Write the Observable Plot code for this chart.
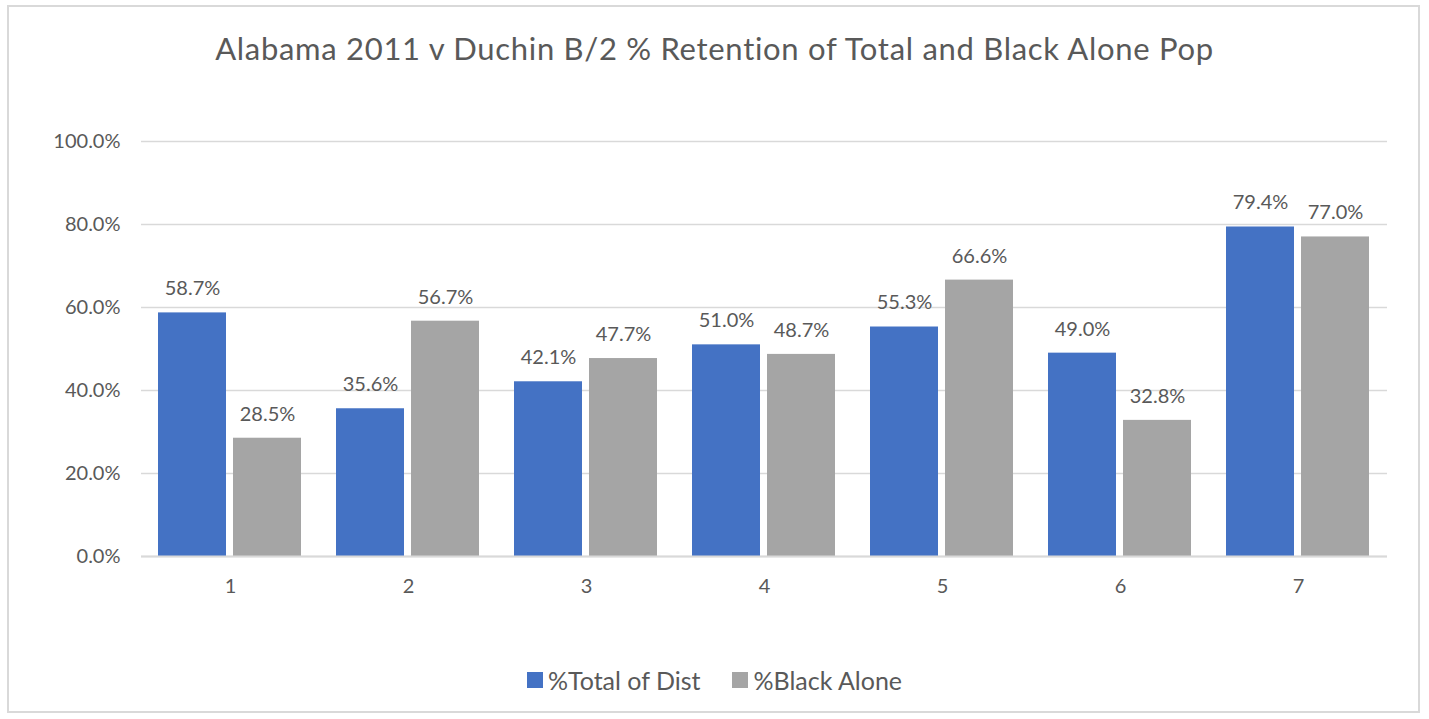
<!DOCTYPE html>
<html>
<head>
<meta charset="utf-8">
<script src="https://cdn.jsdelivr.net/npm/d3@7"></script>
<script src="https://cdn.jsdelivr.net/npm/@observablehq/plot@0.6"></script>
<style>
  html, body { margin: 0; padding: 0; background: #fff; }
  #page { position: relative; width: 1429px; height: 719px; overflow: hidden; font-family: Lato, sans-serif; color: #595959; }
  #frame { position: absolute; left: 7px; top: 5px; width: 1413px; height: 708px; border: 2px solid #d9d9d9; box-sizing: border-box; }
  #title { position: absolute; left: 0; width: 1429px; top: 27px; text-align: center; font-size: 31px; letter-spacing: 0.7px; line-height: 42px; color: #595959; }
  #chart { position: absolute; left: 0; top: 100px; }
  #legend { position: absolute; left: 0; width: 1429px; top: 664px; display: flex; justify-content: center; align-items: center; font-size: 25px; line-height: 32px; color: #595959; }
  .item { display: flex; align-items: center; margin: 0 16px; }
  .sw { width: 16px; height: 16px; margin-right: 5px; }
</style>
</head>
<body>
<div id="page">
  <div id="frame"></div>
  <div id="title"></div>
  <div id="chart"></div>
  <div id="legend"></div>
</div>
<script>
const titleText = "Alabama 2011 v Duchin B/2 % Retention of Total and Black Alone Pop";
const districts = ["1", "2", "3", "4", "5", "6", "7"];
const seriesNames = ["%Total of Dist", "%Black Alone"];
const totalOfDist = [58.7, 35.6, 42.1, 51.0, 55.3, 49.0, 79.4];
const blackAlone = [28.5, 56.7, 47.7, 48.7, 66.6, 32.8, 77.0];
const yTicks = [0, 20, 40, 60, 80, 100];
const colors = ["#4472C4", "#A5A5A5"];

const data = [];
districts.forEach((d, i) => {
  data.push({district: d, series: seriesNames[0], value: totalOfDist[i]});
  data.push({district: d, series: seriesNames[1], value: blackAlone[i]});
});

document.getElementById("title").textContent = titleText;

const fmt = v => v.toFixed(1) + "%";

const chart = Plot.plot({
  width: 1429,
  height: 520,
  marginLeft: 139,
  marginRight: 40,
  marginTop: 41,
  marginBottom: 64,
  style: {fontFamily: "Lato, sans-serif", fontSize: "20px", color: "#595959", background: "transparent"},
  fx: {domain: districts, axis: "bottom", paddingInner: 0, paddingOuter: 0, tickSize: 0, tickPadding: 22, label: null},
  x: {domain: seriesNames, axis: null, paddingInner: 0.092, paddingOuter: 0.221},
  y: {domain: [0, 100], ticks: yTicks, tickFormat: fmt, tickSize: 0, tickPadding: 21, label: null},
  color: {domain: seriesNames, range: colors},
  marks: [
    Plot.gridY(yTicks, {stroke: "#d9d9d9", strokeOpacity: 1, strokeWidth: 1.5}),
    Plot.barY(data, {fx: "district", x: "series", y: "value", fill: "series"}),
    Plot.text(data, {fx: "district", x: "series", y: "value", text: d => fmt(d.value), dy: -24, fill: "#595959", fontSize: 20}),
    Plot.ruleY([0], {stroke: "#d9d9d9", strokeWidth: 2})
  ]
});
document.getElementById("chart").appendChild(chart);

const legend = document.getElementById("legend");
seriesNames.forEach((s, i) => {
  const item = document.createElement("div");
  item.className = "item";
  const sw = document.createElement("div");
  sw.className = "sw";
  sw.style.background = colors[i];
  const t = document.createElement("span");
  t.textContent = s;
  item.appendChild(sw);
  item.appendChild(t);
  legend.appendChild(item);
});
</script>
</body>
</html>
